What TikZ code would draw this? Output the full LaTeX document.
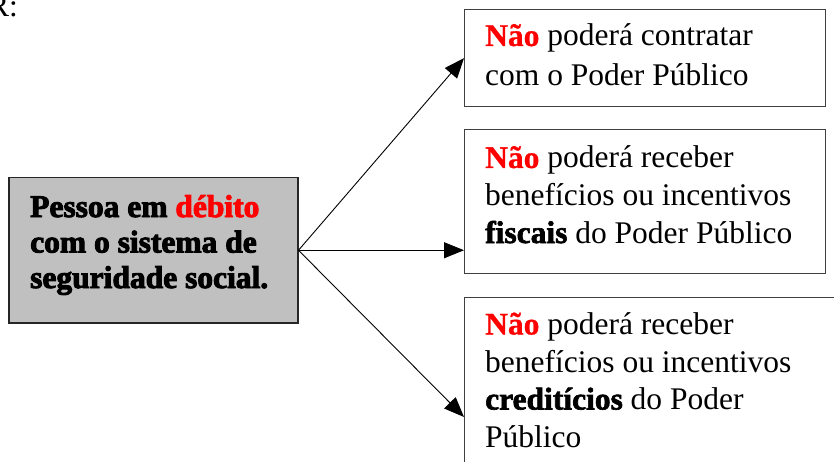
\documentclass[tikz,border=0pt]{standalone}
\usepackage{fontspec}
\setmainfont{Liberation Serif}
\newfontfamily\heavyfont[FakeBold=3]{Liberation Serif Bold}
\newfontfamily\midheavy[FakeBold=2]{Liberation Serif Bold}
\newfontfamily\semiheavy[FakeBold=0.8]{Liberation Serif Bold}
\usetikzlibrary{arrows.meta}
\definecolor{boxgray}{HTML}{C0C0C0}
\definecolor{redtxt}{HTML}{FF0000}
\definecolor{edgegray}{HTML}{404040}
\begin{document}
\begin{tikzpicture}[x=1pt,y=-1pt,
  box/.style={draw=edgegray, line width=1.3pt, inner sep=0pt, anchor=north west},
  txt/.style={anchor=base west, inner sep=0pt, align=left},
  arr/.style={line width=0.9pt, -{Triangle[length=20pt,width=16pt]}}]
\path[use as bounding box, clip] (0,0) rectangle (834,462);
% partially visible label
\node[txt, font=\fontsize{31.5}{38}\selectfont] (r) at (-12,17) {R:};
% boxes
\node[box, fill=boxgray, draw=black!85, line width=1.5pt, minimum width=289pt, minimum height=145pt] (L) at (8,177) {};
\node[box, minimum width=361pt, minimum height=97pt] (B1) at (464,9) {};
\node[box, minimum width=361pt, minimum height=144pt] (B2) at (464,129) {};
\node[box, minimum width=400pt, minimum height=220pt] (B3) at (464,297) {};
% texts (anchored at the baseline of their last line)
\node[txt, font=\heavyfont\fontsize{31.5}{35.5}\selectfont] (Lt) at (30,288)
  {Pessoa em \textcolor{redtxt}{débito}\\com o sistema de\\seguridade social.};
\node[txt, font=\fontsize{31.5}{40}\selectfont] (t1) at (485,86)
  {{\semiheavy\color{redtxt}Não} poderá contratar\\com o Poder Público};
\node[txt, font=\fontsize{31.5}{37.5}\selectfont] (t2) at (485,243)
  {{\semiheavy\color{redtxt}Não} poderá receber\\benefícios ou incentivos\\{\midheavy fiscais} do Poder Público};
\node[txt, font=\fontsize{31.5}{37.5}\selectfont] (t3) at (485,447)
  {{\semiheavy\color{redtxt}Não} poderá receber\\benefícios ou incentivos\\{\midheavy creditícios} do Poder\\Público};
% connectors
\coordinate (a3) at (464,417);
\draw[arr] (L.east) -- (B1.west);
\draw[arr] (L.east) -- (B2.west |- L.east);
\draw[arr] (L.east) -- (a3);
\end{tikzpicture}
\end{document}
